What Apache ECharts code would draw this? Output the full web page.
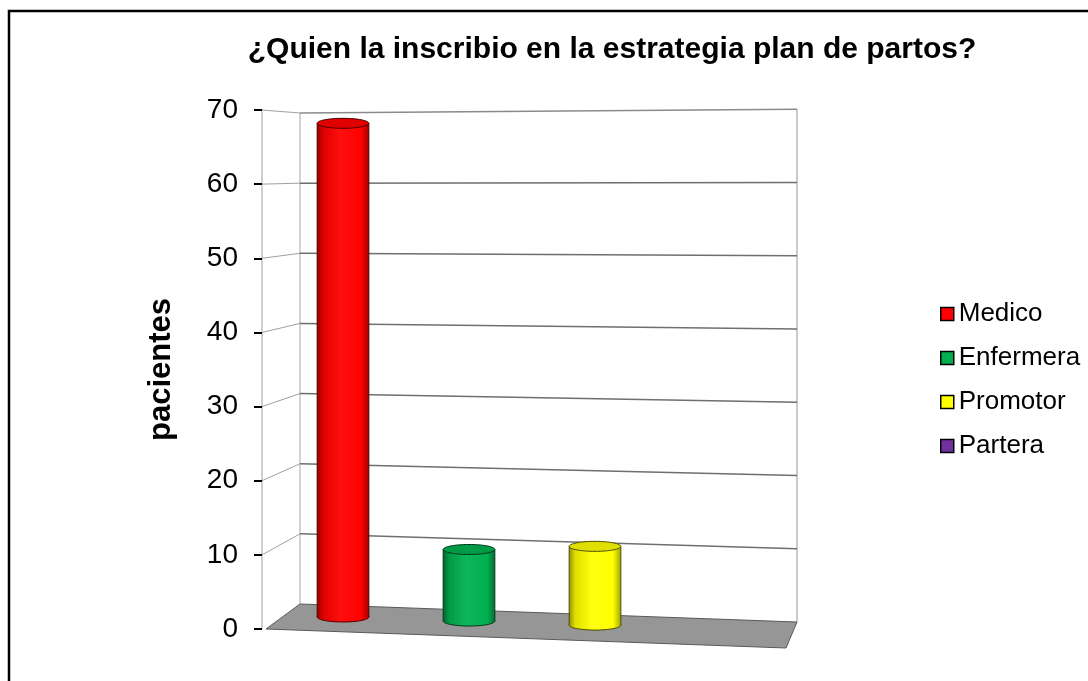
<!DOCTYPE html>
<html>
<head>
<meta charset="utf-8">
<title>¿Quien la inscribio en la estrategia plan de partos?</title>
<script src="https://cdn.jsdelivr.net/npm/echarts@6/dist/echarts.min.js"></script>
<style>
  html, body { margin: 0; padding: 0; background: #fff; }
  #chart { width: 1088px; height: 681px; }
</style>
</head>
<body>
<div id="chart"></div>
<script>
// Who enrolled the patient in the birth-plan strategy
const categories = ['Medico', 'Enfermera', 'Promotor', 'Partera'];
const values = [69, 10, 11, 0];
const yTicks = [0, 10, 20, 30, 40, 50, 60, 70];

const barColors = ['#ff0000', '#00b050', '#ffff00', '#7030a0'];

function mix(hex, target, t) {
  const a = parseInt(hex.slice(1), 16), b = parseInt(target.slice(1), 16);
  const ch = (n, s) => (n >> s) & 255;
  const m = s => Math.round(ch(a, s) + (ch(b, s) - ch(a, s)) * t);
  return 'rgb(' + m(16) + ',' + m(8) + ',' + m(0) + ')';
}

// Back wall, side wall and floor of the 3D box, built from the y scale
function renderWalls(params, api) {
  const cs = params.coordSys;
  const v = api.value(0);
  const bottom = cs.y + cs.height;
  const fxL = cs.x - 18, bxL = cs.x + 20, bxR = cs.x + cs.width + 13;
  const fy = api.coord([0, v])[1];
  const yBL = (bottom - 25) - (bottom - fy) * 0.946;
  const yBR = (bottom - 7) - (bottom - fy) * 0.988;
  const children = [];
  if (v === 0) {
    const topFy = cs.y;
    const topBL = (bottom - 25) - (bottom - topFy) * 0.946;
    const topBR = (bottom - 7) - (bottom - topFy) * 0.988;
    // vertical edges of the walls
    children.push({ type: 'line', shape: { x1: bxL, y1: topBL, x2: bxL, y2: yBL },
      style: { stroke: '#c4c4c4', lineWidth: 1.5 } });
    children.push({ type: 'line', shape: { x1: bxR, y1: topBR, x2: bxR, y2: yBR },
      style: { stroke: '#b8b8b8', lineWidth: 1.5 } });
    // floor
    children.push({ type: 'polygon', shape: { points: [
        [fxL + 4, bottom], [bxL, yBL], [bxR, yBR], [bxR - 11, bottom + 19]] },
      style: { fill: '#969696', stroke: '#5a5a5a', lineWidth: 1 } });
  } else {
    children.push({ type: 'line', shape: { x1: bxL, y1: yBL, x2: bxR, y2: yBR },
      style: { stroke: v === 70 ? '#8a8a8a' : '#6f6f6f', lineWidth: 1.5 } });
    children.push({ type: 'line', shape: { x1: fxL, y1: fy, x2: bxL, y2: yBL },
      style: { stroke: '#a0a0a0', lineWidth: 1 } });
  }
  return { type: 'group', children: children };
}

// Cylinder bars
function renderCylinder(params, api) {
  const idx = api.value(0), v = api.value(1);
  if (!(v > 0)) return { type: 'group', children: [] };
  const cs = params.coordSys;
  const base = api.coord([idx, 0]);
  const top = api.coord([idx, v]);
  const cx = base[0];
  const by = base[1] - 12 + (cx - cs.x - cs.width / 8) * 0.032;
  const h = (base[1] - top[1]) * 0.965;
  const ty = by - h;
  const rx = api.size([1, 0])[0] * 0.205;
  const ry = 5;
  const c = barColors[idx];
  const grad = new echarts.graphic.LinearGradient(0, 0, 1, 0, [
    { offset: 0, color: mix(c, '#000000', 0.42) },
    { offset: 0.12, color: mix(c, '#000000', 0.12) },
    { offset: 0.45, color: mix(c, '#ffffff', 0.06) },
    { offset: 0.85, color: c },
    { offset: 1, color: mix(c, '#000000', 0.35) }
  ]);
  const edge = mix(c, '#000000', 0.7);
  return {
    type: 'group',
    children: [
      { type: 'ellipse', shape: { cx: cx, cy: by, rx: rx, ry: ry },
        style: { fill: grad, stroke: edge, lineWidth: 1 } },
      { type: 'rect', shape: { x: cx - rx, y: ty, width: rx * 2, height: h },
        style: { fill: grad } },
      { type: 'line', shape: { x1: cx - rx, y1: ty, x2: cx - rx, y2: by },
        style: { stroke: edge, lineWidth: 1 } },
      { type: 'line', shape: { x1: cx + rx, y1: ty, x2: cx + rx, y2: by },
        style: { stroke: edge, lineWidth: 1 } },
      { type: 'ellipse', shape: { cx: cx, cy: ty, rx: rx, ry: ry },
        style: { fill: mix(c, '#000000', 0.12), stroke: edge, lineWidth: 1 } }
    ]
  };
}

const chart = echarts.init(document.getElementById('chart'), null, { renderer: 'canvas' });

const series = [{
  name: 'walls',
  type: 'custom',
  renderItem: renderWalls,
  data: yTicks.map(t => [t]),
  encode: { y: 0 },
  silent: true,
  z: 1
}];
categories.forEach((name, i) => {
  series.push({
    name: name,
    type: 'custom',
    renderItem: renderCylinder,
    itemStyle: { color: barColors[i] },
    data: [[i, values[i]]],
    encode: { x: 0, y: 1 },
    z: 3
  });
});

chart.setOption({
  animation: false,
  backgroundColor: '#ffffff',
  textStyle: { fontFamily: '"Liberation Sans", Arial, sans-serif' },
  graphic: [{
    type: 'rect',
    shape: { x: 9, y: 11, width: 1100, height: 700 },
    style: { fill: null, stroke: '#000', lineWidth: 2.5 },
    z: 10
  }],
  title: {
    text: '¿Quien la inscribio en la estrategia plan de partos?',
    left: 607,
    textAlign: 'center',
    top: 30,
    textStyle: { fontSize: 30, fontWeight: 'bold', color: '#000',
      fontFamily: '"Liberation Sans", Arial, sans-serif' }
  },
  legend: {
    data: categories,
    orient: 'vertical',
    left: 935,
    top: 296,
    itemWidth: 13,
    itemHeight: 13,
    itemGap: 18,
    icon: 'rect',
    itemStyle: { borderColor: '#000', borderWidth: 1.5 },
    textStyle: { fontSize: 26, color: '#000', padding: [0, 0, 0, 0] }
  },
  grid: { left: 280, top: 110, width: 504, height: 519 },
  xAxis: { type: 'category', data: categories, show: false },
  yAxis: {
    type: 'value',
    min: 0, max: 70, interval: 10,
    offset: 18,
    name: 'pacientes',
    nameLocation: 'middle',
    nameGap: 85,
    nameTextStyle: { fontSize: 31, fontWeight: 'bold', color: '#000' },
    axisLine: { show: true, lineStyle: { color: '#c0c0c0', width: 1.5 } },
    axisTick: { show: true, length: 8, lineStyle: { color: '#000', width: 2 } },
    axisLabel: { fontSize: 28, color: '#000', margin: 24 },
    splitLine: { show: false }
  },
  series: series
});
</script>
</body>
</html>
